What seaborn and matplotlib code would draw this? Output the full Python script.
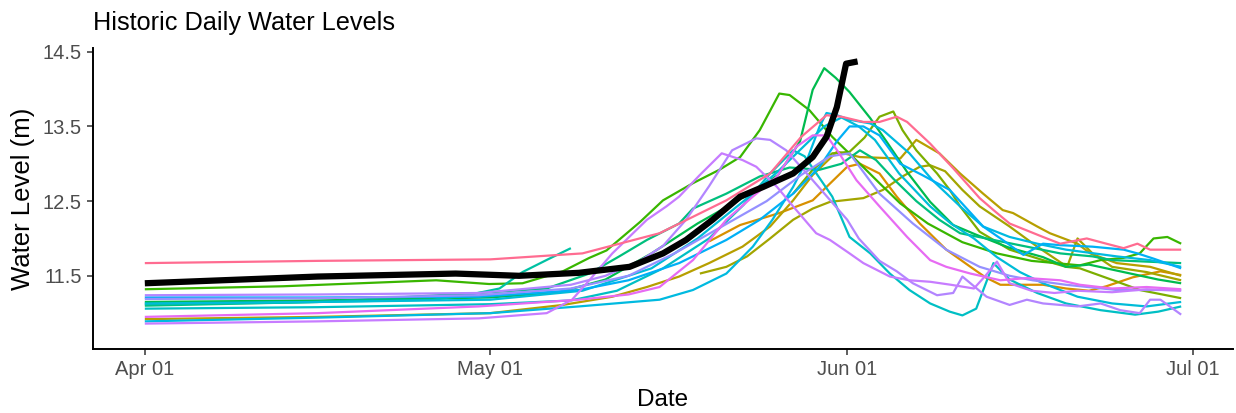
import numpy as np
import pandas as pd
import matplotlib
matplotlib.use("Agg")
import matplotlib.pyplot as plt
import matplotlib.dates as mdates
import seaborn as sns

# ---- data: (days since Apr 01, water level in m) ----
y2001 = [(49, 11.96), (51.7, 12.18), (55.1, 12.34), (58, 12.51), (59.8, 12.78), (61, 12.96), (62.1, 13.0),
         (63.8, 12.87), (65.3, 12.56), (67.3, 12.20), (69.6, 11.85), (71.7, 11.62), (73, 11.48), (74.3, 11.38),
         (76.6, 11.38), (78, 11.38), (80, 11.33), (82, 11.30), (83.5, 11.36), (85.8, 11.48), (88.2, 11.56), (90, 11.51)]
y2002 = [(0, 10.92), (15, 10.95), (30, 11.0), (36.3, 11.11), (40.6, 11.22), (43.6, 11.35), (46.4, 11.49), (49, 11.67),
         (51.9, 11.89), (54.3, 12.16), (56.3, 12.51), (58, 12.85), (60.1, 13.16), (62.1, 13.09), (65.6, 13.07),
         (67, 13.32), (69, 13.14), (70.8, 12.87), (72.8, 12.60), (74.5, 12.38), (75.4, 12.34), (77.5, 12.16),
         (78.6, 12.07), (81, 11.93), (82.1, 11.80), (84.4, 11.67), (87.3, 11.62), (90, 11.50)]
y2003 = [(48.2, 11.53), (50.5, 11.62), (52.3, 11.76), (54.3, 12.0), (56.3, 12.25), (58, 12.4), (59.5, 12.49),
         (62.4, 12.54), (64.1, 12.65), (65.8, 12.83), (67.3, 12.96), (68.2, 12.98), (69.5, 12.90), (71, 12.65),
         (72.5, 12.43), (75.1, 12.16), (77.5, 11.89), (80.1, 11.62), (81, 12.0), (82.3, 11.80), (84, 11.62),
         (87, 11.55), (90, 11.44)]
y2004 = [(56.3, 12.60), (58, 12.92), (59.7, 13.14), (61.2, 13.16), (62.5, 13.35), (63.8, 13.63), (65, 13.70),
         (65.8, 13.45), (67, 13.18), (68.8, 12.87), (69.9, 12.65), (70.8, 12.43), (72.5, 12.09), (75.1, 11.85),
         (78, 11.71), (80, 11.62), (81.2, 11.60), (84.1, 11.44), (86.4, 11.31), (90, 11.20)]
y2005 = [(0, 11.32), (12, 11.36), (25.3, 11.44), (29.9, 11.39), (32.8, 11.40), (36.3, 11.56), (38.6, 11.74),
         (40.1, 11.84), (43, 12.22), (45, 12.51), (47.6, 12.74), (49.9, 12.92), (51.7, 13.09), (53.4, 13.45),
         (55.1, 13.94), (56, 13.92), (57.7, 13.72), (59.7, 13.36), (62.1, 13.0), (63.8, 12.74), (65.6, 12.47),
         (68, 12.2), (71, 11.95), (74, 11.8), (77, 11.7), (81.2, 11.64), (83, 11.71), (85, 11.74), (86.4, 11.80),
         (87.6, 12.0), (88.8, 12.02), (90, 11.93)]
y2006 = [(0, 11.15), (15, 11.17), (30, 11.21), (36, 11.28), (40, 11.45), (44, 11.8), (48, 12.2), (52, 12.55),
         (55, 12.85), (56.9, 13.3), (58, 13.99), (59, 14.28), (60, 14.15), (61.2, 13.96), (63, 13.61), (64.4, 13.30),
         (66.2, 12.89), (68.2, 12.49), (70.2, 12.18), (72.2, 12.05), (75, 11.88), (78, 11.75), (80, 11.62),
         (82, 11.65), (85, 11.55), (88, 11.45), (90, 11.40)]
y2007 = [(0, 11.10), (15, 11.15), (29, 11.27), (34.9, 11.33), (38.6, 11.53), (41.2, 11.76), (43.6, 11.98),
         (46.4, 12.2), (47.6, 12.40), (50.5, 12.60), (53.4, 12.83), (56, 12.95), (58.6, 12.92), (60.5, 13.0),
         (62.1, 13.18), (63.5, 13.05), (65, 12.8), (67, 12.5), (69, 12.25), (70.8, 12.07), (73.7, 11.98),
         (76.6, 11.89), (79.5, 11.80), (82.3, 11.76), (84, 11.71), (87, 11.69), (90, 11.67)]
y2008 = [(0, 11.12), (12, 11.14), (25, 11.18), (28, 11.24), (30.8, 11.33), (32.8, 11.55), (35, 11.72), (37, 11.87)]
y2009 = [(0, 11.06), (15, 11.08), (30, 11.12), (37, 11.17), (41, 11.3), (45, 11.6), (49, 12.0), (52, 12.45),
         (54.3, 12.87), (56.3, 13.18), (57.3, 13.1), (59.7, 12.56), (61.2, 12.02), (63, 11.80), (64.7, 11.53),
         (66.4, 11.31), (68.2, 11.13), (69.9, 11.02), (71, 10.97), (72.2, 11.06), (73.7, 11.67), (75.1, 11.45),
         (77.5, 11.27), (80, 11.13), (83, 11.04), (86, 10.98), (88, 11.02), (90, 11.09)]
y2010 = [(0, 10.89), (15, 10.94), (30, 11.0), (37.7, 11.09), (44.7, 11.18), (47.6, 11.31), (50.5, 11.53),
         (52.8, 11.89), (54.5, 12.25), (56.3, 12.69), (57.5, 13.05), (58.6, 13.50), (59.2, 13.68), (60.1, 13.65),
         (61.2, 13.59), (63, 13.54), (64.1, 13.45), (66.4, 13.14), (68.4, 12.78), (70.8, 12.43), (72.8, 12.16),
         (75.1, 12.02), (77.5, 11.93), (80, 11.85), (84.4, 11.76), (87.3, 11.71), (90, 11.62)]
y2011 = [(0, 11.13), (15, 11.15), (30, 11.18), (38, 11.3), (44, 11.6), (48, 12.0), (52, 12.5), (55, 12.9),
         (57, 13.2), (59, 13.5), (60.5, 13.62), (62, 13.5), (63.4, 13.32), (65.5, 12.87), (68.2, 12.43),
         (70, 12.2), (72, 12.0), (74, 11.75), (76, 11.55), (78, 11.4), (81, 11.22), (84, 11.13), (87, 11.09),
         (90, 11.15)]
y2012 = [(0, 11.21), (15, 11.21), (29, 11.22), (37.7, 11.31), (42, 11.44), (46.4, 11.67), (50.5, 11.98),
         (53.4, 12.25), (56.3, 12.60), (58.6, 12.96), (60.1, 13.30), (61.2, 13.50), (62.4, 13.50), (63.8, 13.38),
         (65.6, 13.0), (67.5, 12.85), (69.9, 12.65), (72.8, 12.16), (74.5, 11.98), (76.3, 11.78), (78, 11.93),
         (79.5, 11.91), (82.3, 11.89), (85, 11.85), (86.2, 11.80), (87.6, 11.73), (90, 11.60)]
y2013 = [(0, 11.19), (15, 11.2), (29, 11.24), (37, 11.33), (42, 11.5), (46, 11.8), (50, 12.15), (54, 12.5),
         (57, 12.85), (59.5, 13.1), (61.2, 13.14), (63.8, 12.60), (66.7, 12.2), (69.6, 11.85), (72.5, 11.62),
         (75.1, 11.50), (77.1, 11.44), (80, 11.38), (84.4, 11.31), (90, 11.31)]
y2014 = [(0, 11.24), (15, 11.25), (29, 11.27), (37, 11.38), (40, 11.50), (43, 11.70), (45, 11.90), (47, 12.25),
         (49, 12.70), (51, 13.18), (53.1, 13.34), (54.3, 13.32), (55.7, 13.18), (58, 12.78), (61, 12.25),
         (62, 12.0), (63.8, 11.70), (65.3, 11.56), (66.7, 11.40), (68.8, 11.24), (70.2, 11.27), (71, 11.49),
         (73.1, 11.22), (75.1, 11.11), (76.6, 11.18), (78, 11.13), (81, 11.09), (83, 11.13), (84.7, 11.04),
         (86.4, 11.0), (87.3, 11.18), (88.2, 11.18), (90, 10.98)]
y2015 = [(0, 10.86), (15, 10.89), (29, 10.93), (34.9, 11.0), (37.1, 11.18), (38.6, 11.44), (40.6, 11.80),
         (43.6, 12.25), (45.3, 12.43), (46.4, 12.56), (48.2, 12.85), (50.1, 13.14), (51.9, 13.05), (53.1, 12.96),
         (54.9, 12.69), (56.3, 12.43), (58.3, 12.07), (59.5, 11.98), (61.2, 11.80), (62.4, 11.67), (64.7, 11.49),
         (66.4, 11.44), (68.2, 11.42), (70, 11.38), (72, 11.33), (73, 11.5), (74, 11.69), (75.1, 11.40),
         (77, 11.3), (79, 11.27), (81, 11.30), (84, 11.28), (87, 11.32), (90, 11.30)]
y2016 = [(0, 10.95), (15, 11.0), (29, 11.09), (37.7, 11.18), (42, 11.25), (44.7, 11.35), (47.6, 11.71),
         (50.5, 12.25), (52.8, 12.56), (54.9, 12.83), (56.6, 13.23), (58, 13.38), (59.2, 13.38), (60.3, 13.14),
         (61.8, 12.78), (63.8, 12.43), (66.2, 12.02), (68.2, 11.71), (69.6, 11.62), (71.7, 11.53), (74.3, 11.44),
         (76.6, 11.47), (79.5, 11.44), (81.2, 11.38), (84, 11.33), (87, 11.35), (90, 11.32)]
y2017 = [(0, 11.67), (15, 11.70), (30, 11.72), (38, 11.80), (44.7, 12.07), (50.5, 12.51), (54.3, 12.87),
         (57, 13.36), (59.2, 13.65), (60.5, 13.63), (62.4, 13.56), (63.8, 13.56), (65.3, 13.63), (66.2, 13.56),
         (68.2, 13.27), (70.2, 12.94), (72.5, 12.54), (73.7, 12.38), (75.1, 12.20), (78, 12.02), (79.5, 11.93),
         (81.8, 12.00), (83.5, 11.93), (85, 11.87), (86.2, 11.93), (87.3, 11.85), (90, 11.85)]
current = [(0, 11.40), (15, 11.49), (27, 11.53), (32.5, 11.50), (37.7, 11.54), (42.1, 11.62), (45, 11.80),
           (47, 11.98), (49.3, 12.25), (51.7, 12.56), (53.7, 12.69), (56.3, 12.87), (58, 13.09), (59.2, 13.36),
           (60.1, 13.76), (60.9, 14.34), (61.9, 14.37)]

years = ["2001", "2002", "2003", "2004", "2005", "2006", "2007", "2008", "2009",
         "2010", "2011", "2012", "2013", "2014", "2015", "2016", "2017"]
series = [y2001, y2002, y2003, y2004, y2005, y2006, y2007, y2008, y2009,
          y2010, y2011, y2012, y2013, y2014, y2015, y2016, y2017]
colors = ["#D89000", "#B79F00", "#A3A500", "#7CAE00", "#39B600", "#00BB4E", "#00BF7D", "#00C1A3", "#00BFC4",
          "#00BAE0", "#00BCD8", "#00B0F6", "#9590FF", "#B385FF", "#C77CFF", "#E76BF3", "#FF6C91"]
current_year = "2018"

x_ticks = ["2018-04-01", "2018-05-01", "2018-06-01", "2018-07-01"]
y_ticks = [11.5, 12.5, 13.5, 14.5]

start = pd.Timestamp("2018-04-01")


def to_frame(points, label):
    d = np.array([p[0] for p in points], dtype=float)
    v = np.array([p[1] for p in points], dtype=float)
    return pd.DataFrame({"date": start + pd.to_timedelta(d, unit="D"), "level": v, "year": label})


hist = pd.concat([to_frame(s, yr) for s, yr in zip(series, years)], ignore_index=True)
cur = to_frame(current, current_year)

sns.set_style("white")
plt.rcParams["font.family"] = ["Liberation Sans", "DejaVu Sans"]

W, H = 1236, 413
fig = plt.figure(figsize=(W / 100, H / 100), dpi=100)
L, R, T, B = 93, 1233, 48, 349
ax = fig.add_axes([L / W, 1 - B / H, (R - L) / W, (B - T) / H])

sns.lineplot(data=hist, x="date", y="level", hue="year", hue_order=years,
             palette=dict(zip(years, colors)), estimator=None, sort=False,
             legend=False, linewidth=1.6, ax=ax, solid_capstyle="butt")
sns.lineplot(data=cur, x="date", y="level", color="black", estimator=None, sort=False,
             linewidth=4.5, ax=ax, solid_capstyle="butt")

ax.set_xlim(start + pd.Timedelta(days=-4.5), start + pd.Timedelta(days=94.5))
ax.set_ylim(10.52, 14.55)
ax.set_xticks(pd.to_datetime(x_ticks))
ax.xaxis.set_major_formatter(mdates.DateFormatter("%b %d"))
ax.set_yticks(y_ticks)
ax.set_yticklabels([f"{t:.1f}" for t in y_ticks])

for side in ["top", "right"]:
    ax.spines[side].set_visible(False)
for side in ["left", "bottom"]:
    ax.spines[side].set_color("black")
    ax.spines[side].set_linewidth(1.4)

ax.tick_params(axis="both", which="major", direction="out", length=4.0, width=1.1,
               bottom=True, left=True, top=False, right=False,
               color="#333333", labelcolor="#4D4D4D", labelsize=14.5, pad=4.0)
ax.grid(False)

ax.set_xlabel("Date", fontsize=17.5, color="black")
ax.set_ylabel("Water Level (m)", fontsize=18.5, color="black")
ax.xaxis.label.set_va("baseline")
ax.xaxis.set_label_coords(0.5, (B - 406) / (B - T))
ax.yaxis.set_label_coords((35 - L) / (R - L), 0.5)

ax.set_title("Historic Daily Water Levels", loc="left", fontsize=18.2, pad=13.3, color="black")

fig.savefig("out.png", dpi=100, facecolor="white")
